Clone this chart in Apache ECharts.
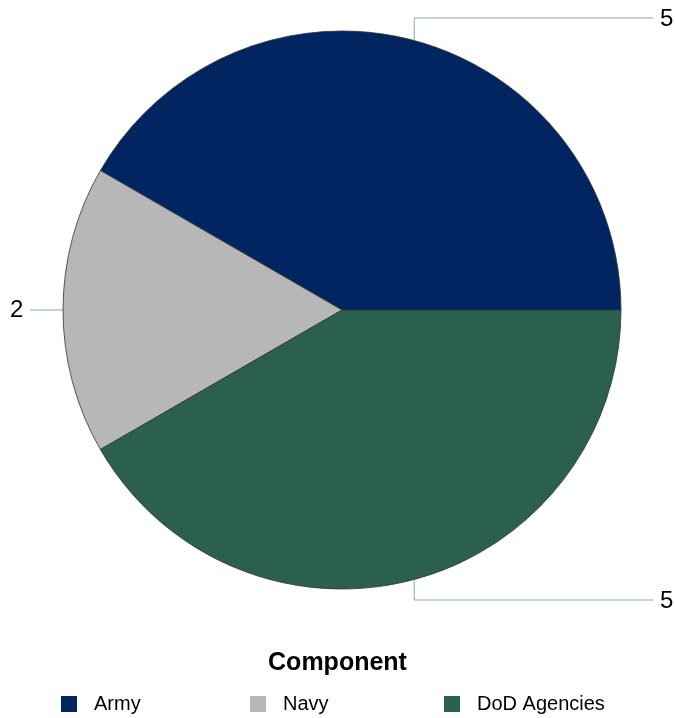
<!DOCTYPE html>
<html>
<head>
<meta charset="utf-8">
<script src="https://cdn.jsdelivr.net/npm/echarts@6/dist/echarts.min.js"></script>
<style>html,body{margin:0;padding:0;background:#fff;}#c{width:675px;height:718px;}</style>
</head>
<body>
<div id="c"></div>
<script>
const categories = ['Army', 'Navy', 'DoD Agencies'];
const values = [5, 2, 5];
const colors = ['#002561', '#b7b7b7', '#2b5f4f'];
const legendTitle = 'Component';

const chart = echarts.init(document.getElementById('c'), null, {renderer: 'canvas'});
const legendLefts = [61, 250, 444];
const FONT = 'Liberation Sans, Arial, sans-serif';

const option = {
  animation: false,
  backgroundColor: '#ffffff',
  title: {
    text: legendTitle,
    left: 'center',
    top: 651,
    padding: 0,
    textStyle: {fontFamily: FONT, fontSize: 25, fontWeight: 'bold', color: '#000'}
  },
  legend: categories.map((c, i) => ({
    data: [c],
    left: legendLefts[i],
    top: 694,
    padding: 0,
    itemWidth: 16,
    itemHeight: 16,
    icon: 'rect',
    itemStyle: {borderWidth: 0},
    textStyle: {fontFamily: FONT, fontSize: 20, color: '#000', padding: [0, 0, 0, 12]}
  })),
  series: [{
    type: 'pie',
    center: [342, 310],
    radius: 279,
    startAngle: 0,
    clockwise: false,
    data: categories.map((c, i) => ({name: c, value: values[i], itemStyle: {color: colors[i]}})),
    itemStyle: {borderColor: '#333', borderWidth: 0.8},
    label: {
      show: true,
      formatter: '{c}',
      overflow: 'none',
      fontFamily: FONT,
      fontSize: 24,
      color: '#000'
    },
    labelLine: {show: true, length: 10, length2: 10, lineStyle: {color: '#84ad a1'.replace(' ', ''), width: 1}},
    labelLayout: function (p) {
      const pts = p.labelLinePoints;
      if (!pts) return {};
      const p0 = pts[0];
      if (p.dataIndex === 0) {
        return {x: 660, y: 19, align: 'left', verticalAlign: 'middle',
          labelLinePoints: [[p0[0], p0[1]], [p0[0], 18], [653, 18]]};
      } else if (p.dataIndex === 1) {
        return {x: 10, y: 310, align: 'left', verticalAlign: 'middle',
          labelLinePoints: [[p0[0], p0[1]], [46, 310], [30, 310]]};
      } else {
        return {x: 660, y: 601, align: 'left', verticalAlign: 'middle',
          labelLinePoints: [[p0[0], p0[1]], [p0[0], 600], [653, 600]]};
      }
    }
  }]
};
chart.setOption(option);
</script>
</body>
</html>
